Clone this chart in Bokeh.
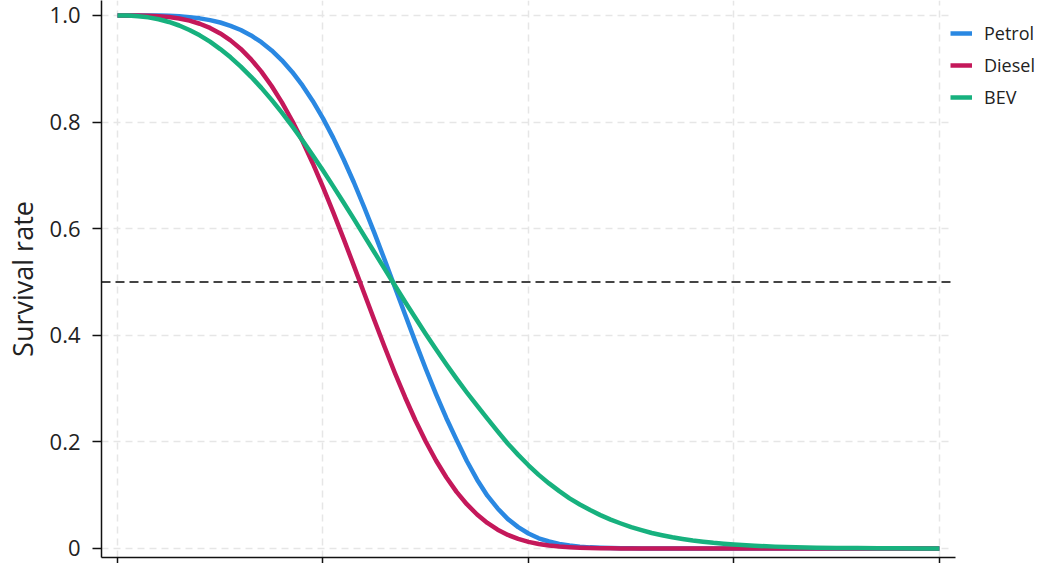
from bokeh.plotting import figure
from bokeh.models import Legend, LegendItem, FixedTicker, Range1d
from bokeh.embed import file_html
from bokeh.resources import INLINE

years = [0, 0.5, 1, 1.5, 2, 2.5, 3, 3.5, 4, 4.5,
         5, 5.5, 6, 6.5, 7, 7.5, 8, 8.5, 9, 9.5,
         10, 10.5, 11, 11.5, 12, 12.5, 13, 13.5, 14, 14.5,
         15, 15.5, 16, 16.5, 17, 17.5, 18, 18.5, 19, 19.5,
         20, 20.5, 21, 21.5, 22, 22.5, 23, 23.5, 24, 24.5,
         25, 25.5, 26, 26.5, 27, 27.5, 28, 28.5, 29, 29.5,
         30, 31, 32, 33, 34, 35, 36, 37, 38, 39, 40]
petrol = [1.0, 1.0, 1.0, 0.9999, 0.9997, 0.9992, 0.9983, 0.9968, 0.9945, 0.9912,
          0.9867, 0.9805, 0.9726, 0.9624, 0.9497, 0.9343, 0.9158, 0.8940, 0.8686, 0.8395,
          0.8068, 0.7703, 0.7302, 0.6870, 0.6406, 0.5920, 0.5415, 0.4900, 0.4383, 0.3870,
          0.3372, 0.2896, 0.2448, 0.2036, 0.164, 0.129, 0.099, 0.075, 0.055, 0.040,
          0.028, 0.019, 0.013, 0.0085, 0.0055, 0.0034, 0.002, 0.0012, 0.0007, 0.0004,
          0.0002, 0.0001, 0.0001, 0.0, 0.0, 0.0, 0.0, 0.0, 0.0, 0.0,
          0.0, 0.0, 0.0, 0.0, 0.0, 0.0, 0.0, 0.0, 0.0, 0.0, 0.0]
diesel = [1.0, 1.0, 0.9999, 0.9995, 0.9986, 0.9970, 0.9943, 0.9902, 0.9844, 0.9765,
          0.9662, 0.9532, 0.9371, 0.9176, 0.8945, 0.8676, 0.8369, 0.8024, 0.7643, 0.7227,
          0.6780, 0.6306, 0.5813, 0.5306, 0.4792, 0.4280, 0.3778, 0.3292, 0.2832, 0.2401,
          0.2006, 0.1650, 0.1335, 0.1061, 0.0830, 0.0636, 0.0478, 0.0352, 0.0253, 0.0179,
          0.0123, 0.0083, 0.0054, 0.0035, 0.0022, 0.0013, 0.0008, 0.0004, 0.0002, 0.0001,
          0.0001, 0.0, 0.0, 0.0, 0.0, 0.0, 0.0, 0.0, 0.0, 0.0,
          0.0, 0.0, 0.0, 0.0, 0.0, 0.0, 0.0, 0.0, 0.0, 0.0, 0.0]
bev = [1.0, 0.9997, 0.9986, 0.9964, 0.9928, 0.9877, 0.9811, 0.9727, 0.9626, 0.9507,
       0.9369, 0.9214, 0.9039, 0.8849, 0.8641, 0.8416, 0.8176, 0.7922, 0.7656, 0.7378,
       0.7089, 0.6793, 0.6490, 0.6182, 0.5870, 0.5557, 0.5244, 0.4932, 0.4624, 0.4322,
       0.4024, 0.3736, 0.3456, 0.3185, 0.2926, 0.2678, 0.2435, 0.2195, 0.1965, 0.1755,
       0.156, 0.138, 0.122, 0.1075, 0.094, 0.0825, 0.072, 0.0625, 0.054, 0.0468,
       0.040, 0.0343, 0.029, 0.0248, 0.021, 0.0178, 0.015, 0.0127, 0.0105, 0.0088,
       0.0073, 0.005, 0.0034, 0.0023, 0.0015, 0.001, 0.0006, 0.0004, 0.0002, 0.0001, 0.0]

x_ticks = [0, 10, 20, 30, 40]
y_ticks = [0, 0.2, 0.4, 0.6, 0.8, 1.0]
y_labels = {0: "0", 0.2: "0.2", 0.4: "0.4", 0.6: "0.6", 0.8: "0.8", 1.0: "1.0"}
threshold = 0.5
names = ["Petrol", "Diesel", "BEV"]
colors = ["#2a88e2", "#c4185a", "#17b17e"]

FONT = "Open Sans"
X0, X1 = -0.78, 40.78      # axis extent
XR = 44.92                  # visible range end (room for legend)

p = figure(width=1040, height=563, output_backend="svg", toolbar_location=None,
           x_range=Range1d(X0, XR), y_range=Range1d(-0.017, 1.028),
           min_border_left=101, min_border_top=0, min_border_bottom=0, min_border_right=0)
p.outline_line_color = None

for ax in (p.xaxis[0], p.yaxis[0]):
    ax.axis_line_color = "#111111"
    ax.axis_line_width = 1.5
    ax.major_tick_line_color = "#111111"
    ax.major_tick_line_width = 1.5
    ax.major_tick_in = 0
    ax.minor_tick_line_color = None
    ax.major_label_text_font = FONT
    ax.major_label_text_color = "#222222"

p.xaxis.ticker = FixedTicker(ticks=x_ticks)
p.xaxis.bounds = (X0, X1)
p.xaxis.major_tick_out = 6
p.xaxis.major_label_text_font_size = "0px"
p.xaxis.major_label_text_color = None
p.xaxis.major_label_standoff = 0

p.yaxis.ticker = FixedTicker(ticks=y_ticks)
p.yaxis.major_label_overrides = y_labels
p.yaxis.major_tick_out = 9
p.yaxis.major_label_standoff = 12
p.yaxis.major_label_text_font_size = "22px"
p.yaxis.axis_label = "Survival rate"
p.yaxis.axis_label_text_font = FONT
p.yaxis.axis_label_text_font_size = "27px"
p.yaxis.axis_label_text_font_style = "normal"
p.yaxis.axis_label_text_color = "#222222"
p.yaxis.axis_label_standoff = 6

for g in (p.xgrid[0], p.ygrid[0]):
    g.grid_line_color = "#e6e6e6"
    g.grid_line_width = 1.5
    g.grid_line_dash = "7 5"
p.ygrid[0].cross_bounds = (X0, 40.5)

p.line([X0, X1], [threshold, threshold], line_color="#444444",
       line_dash="9 5", line_width=2)

items = []
for name, ys, c in zip(names, [petrol, diesel, bev], colors):
    r = p.line(years, ys, line_color=c, line_width=4.5, line_join="round")
    items.append(LegendItem(label=name, renderers=[r]))

legend = Legend(items=items, location=(849, 448), padding=0, margin=0,
                border_line_color=None, background_fill_alpha=0,
                glyph_width=22, glyph_height=22, label_height=22,
                label_standoff=12, spacing=8,
                label_text_font=FONT, label_text_font_size="18px",
                label_text_color="#222222")
p.add_layout(legend)

open("out.html", "w").write(file_html(p, INLINE))
